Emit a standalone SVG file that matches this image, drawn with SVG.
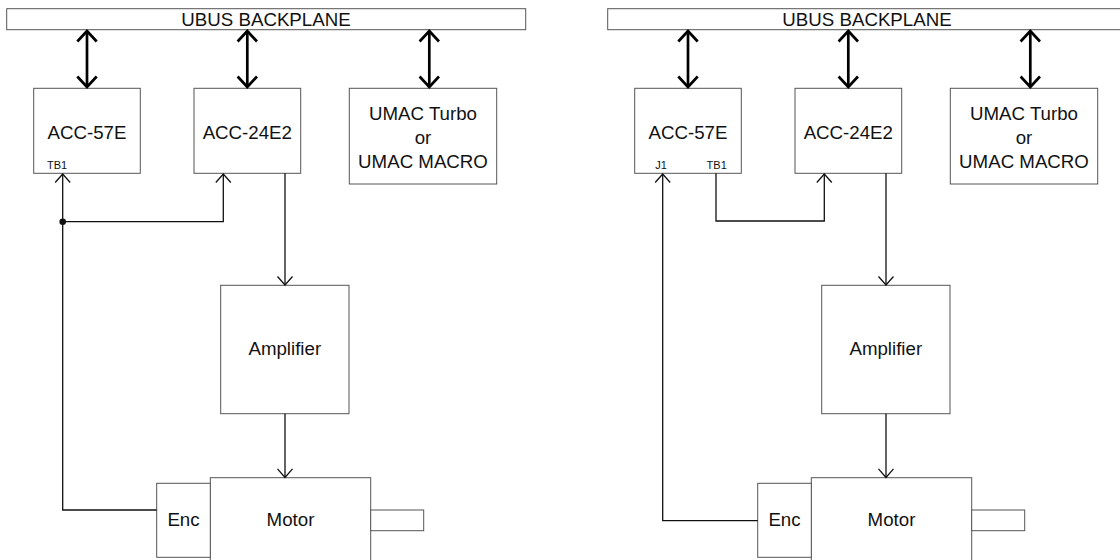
<svg xmlns="http://www.w3.org/2000/svg" width="1120" height="560" viewBox="0 0 1120 560">
<style>
.box{fill:#fff;stroke:#555;stroke-width:1}
.t{font-family:"Liberation Sans",Arial,sans-serif;font-size:18.7px;fill:#111;text-anchor:middle}
.s{font-family:"Liberation Sans",Arial,sans-serif;font-size:11px;fill:#111;text-anchor:middle}
.bus{fill:none;stroke:#000;stroke-width:2.7}
.wire{fill:none;stroke:#111;stroke-width:1.3}
</style>
<defs>
<marker id="big" markerUnits="userSpaceOnUse" viewBox="-14 -12 16 24" refX="0" refY="0" markerWidth="16" markerHeight="24" orient="auto-start-reverse" overflow="visible">
<path d="M-10.5,-9.7 L0,0 L-10.5,9.7" fill="none" stroke="#000" stroke-width="2.7"/>
</marker>
<marker id="small" markerUnits="userSpaceOnUse" viewBox="-12 -10 14 20" refX="0" refY="0" markerWidth="14" markerHeight="20" orient="auto" overflow="visible">
<path d="M-8.5,-7.5 L0,0 L-8.5,7.5" fill="none" stroke="#111" stroke-width="1.3"/>
</marker>
</defs>

<!-- LEFT PANEL -->
<g id="left-panel">
<g id="L-backplane"><rect class="box" x="6.7" y="8.7" width="519" height="21"/><text class="t" x="266" y="26">UBUS BACKPLANE</text></g>
<g id="L-acc57e"><rect class="box" x="33.7" y="88.3" width="106.6" height="85"/><text class="t" x="87" y="139">ACC-57E</text><text class="s" x="57" y="169">TB1</text></g>
<g id="L-acc24e2"><rect class="box" x="194" y="88.3" width="106.7" height="85"/><text class="t" x="247.3" y="139">ACC-24E2</text></g>
<g id="L-umac"><rect class="box" x="349.3" y="88.3" width="147.4" height="95.7"/><text class="t" x="423" y="120">UMAC Turbo</text><text class="t" x="423" y="144">or</text><text class="t" x="423" y="168">UMAC MACRO</text></g>
<g id="L-amplifier"><rect class="box" x="220.7" y="285.3" width="128.3" height="128.4"/><text class="t" x="284.8" y="355">Amplifier</text></g>
<g id="L-motor"><rect class="box" x="210.3" y="477.7" width="160.4" height="90"/><text class="t" x="290.5" y="526">Motor</text><rect class="box" x="370.7" y="510" width="53" height="20.7"/></g>
<g id="L-enc"><rect class="box" x="156.7" y="483.3" width="53.6" height="74"/><text class="t" x="183.5" y="526">Enc</text></g>
<g id="L-connectors">
<path class="bus" d="M87,31 V87" marker-start="url(#big)" marker-end="url(#big)"/>
<path class="bus" d="M247.3,31 V87" marker-start="url(#big)" marker-end="url(#big)"/>
<path class="bus" d="M429.3,31 V87" marker-start="url(#big)" marker-end="url(#big)"/>
<path class="wire" d="M156.7,510 H62.7 V174" marker-end="url(#small)"/>
<path class="wire" d="M62.7,221.7 H223.3 V174" marker-end="url(#small)"/>
<circle cx="62.7" cy="221.7" r="3.3" fill="#111"/>
<path class="wire" d="M285,173.3 V285" marker-end="url(#small)"/>
<path class="wire" d="M285,413.7 V477.4" marker-end="url(#small)"/>
</g>
</g>

<!-- RIGHT PANEL -->
<g id="right-panel" transform="translate(601,0)">
<g id="R-backplane"><rect class="box" x="6.7" y="8.7" width="519" height="21"/><text class="t" x="266" y="26">UBUS BACKPLANE</text></g>
<g id="R-acc57e"><rect class="box" x="33.7" y="88.3" width="106.6" height="85"/><text class="t" x="87" y="139">ACC-57E</text><text class="s" x="60" y="169">J1</text><text class="s" x="115.7" y="169">TB1</text></g>
<g id="R-acc24e2"><rect class="box" x="194" y="88.3" width="106.7" height="85"/><text class="t" x="247.3" y="139">ACC-24E2</text></g>
<g id="R-umac"><rect class="box" x="349.3" y="88.3" width="147.4" height="95.7"/><text class="t" x="423" y="120">UMAC Turbo</text><text class="t" x="423" y="144">or</text><text class="t" x="423" y="168">UMAC MACRO</text></g>
<g id="R-amplifier"><rect class="box" x="220.7" y="285.3" width="128.3" height="128.4"/><text class="t" x="284.8" y="355">Amplifier</text></g>
<g id="R-motor"><rect class="box" x="210.3" y="477.7" width="160.4" height="90"/><text class="t" x="290.5" y="526">Motor</text><rect class="box" x="370.7" y="510" width="53" height="20.7"/></g>
<g id="R-enc"><rect class="box" x="156.7" y="483.3" width="53.6" height="74"/><text class="t" x="183.5" y="526">Enc</text></g>
<g id="R-connectors">
<path class="bus" d="M87,31 V87" marker-start="url(#big)" marker-end="url(#big)"/>
<path class="bus" d="M247.3,31 V87" marker-start="url(#big)" marker-end="url(#big)"/>
<path class="bus" d="M429.3,31 V87" marker-start="url(#big)" marker-end="url(#big)"/>
<path class="wire" d="M156.7,520.7 H61.7 V174" marker-end="url(#small)"/>
<path class="wire" d="M115,173.3 V221 H223.3 V174" marker-end="url(#small)"/>
<path class="wire" d="M285,173.3 V285" marker-end="url(#small)"/>
<path class="wire" d="M285,413.7 V477.4" marker-end="url(#small)"/>
</g>
</g>
</svg>
